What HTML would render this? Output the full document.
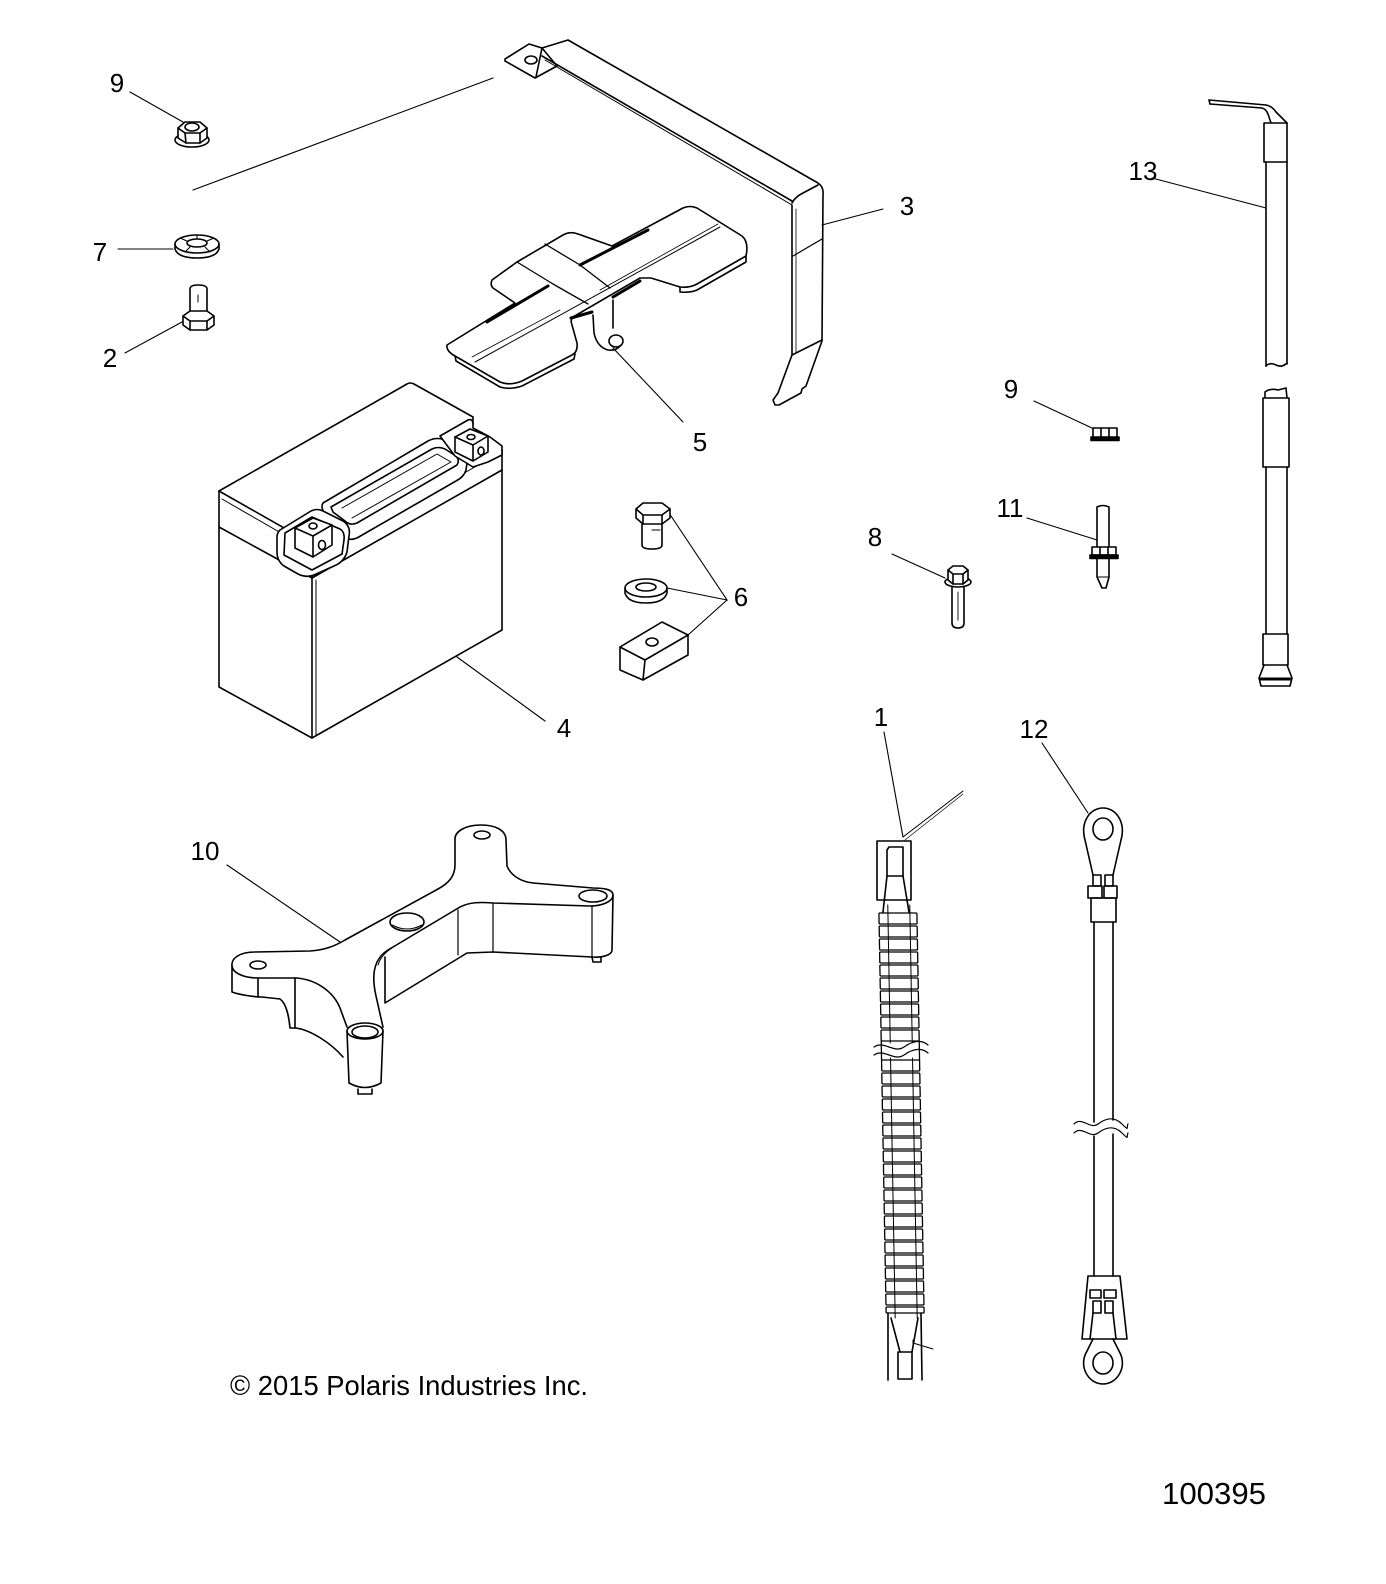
<!DOCTYPE html>
<html><head><meta charset="utf-8"><style>
html,body{margin:0;padding:0;background:#fff;}
svg{display:block;}
text{font-family:"Liberation Sans",Arial,sans-serif;fill:#000;}
</style></head><body>
<svg width="1386" height="1584" viewBox="0 0 1386 1584" xmlns="http://www.w3.org/2000/svg">
<rect width="1386" height="1584" fill="#fff"/>

<!-- LEADER LINES -->
<g fill="none" stroke="#000" stroke-width="1.1" stroke-linecap="round">
  <line x1="130" y1="92" x2="183" y2="122"/>
  <line x1="193" y1="190" x2="493" y2="78"/>
  <line x1="118" y1="249" x2="173" y2="249"/>
  <line x1="125" y1="353" x2="182" y2="322"/>
  <line x1="822" y1="225" x2="883" y2="209"/>
  <line x1="613" y1="348" x2="683" y2="422"/>
  <line x1="457" y1="657" x2="545" y2="721"/>
  <polyline points="669,513 727,600 667,588"/>
  <line x1="727" y1="600" x2="688" y2="635"/>
  <line x1="227" y1="865" x2="340" y2="942"/>
  <line x1="1152" y1="178" x2="1266" y2="208"/>
  <line x1="1034" y1="401" x2="1092" y2="428"/>
  <line x1="1027" y1="518" x2="1097" y2="540"/>
  <line x1="892" y1="554" x2="945" y2="578"/>
  <line x1="884" y1="732" x2="903" y2="837"/>
  <line x1="1042" y1="743" x2="1088" y2="813"/>
</g>

<g fill="none" stroke="#000" stroke-width="1.6" stroke-linejoin="round" stroke-linecap="round">

<!-- PART 9 nut (top left) -->
<ellipse cx="192" cy="140" rx="17" ry="7" fill="#fff"/>
<path d="M178,128 L178,138 L186,143 L200,143 L207,138 L207,128" fill="#fff"/>
<path d="M178,128 L185,122 L200,122 L207,128 L200,133 L185,133 Z" fill="#fff"/>
<path d="M185,133 L186,143 M200,133 L200,143"/>
<ellipse cx="192" cy="127" rx="7" ry="4"/>

<!-- PART 7 washer -->
<path d="M175,244 L175,249 Q178,258 197,258 Q216,258 219,249 L219,244"/>
<ellipse cx="197" cy="244" rx="22" ry="9" fill="#fff"/>
<ellipse cx="197" cy="243" rx="10" ry="4"/>
<path d="M187,241 L180,238 M207,241 L214,238 M190,247 L185,252 M205,247 L210,252 M197,239 L197,235" stroke-width="1"/>

<!-- PART 2 bolt -->
<path d="M190,312 L190,289 Q190,285 198,285 Q207,285 207,289 L207,312" fill="#fff"/>
<path d="M198,295 L198,302" stroke-width="1"/>
<path d="M183,316 L183,325 L190,330 L207,330 L214,325 L214,316" fill="#fff"/>
<path d="M183,316 L190,311 L207,311 L214,316 L207,321 L190,321 Z" fill="#fff"/>
<path d="M190,321 L190,330 M207,321 L207,330"/>

<!-- PART 3 bracket -->
<path d="M505,59 L529,44 L542,48 L557,66 L535,78 L505,61 Z" fill="#fff"/>
<path d="M542,48 L536,77"/>
<ellipse cx="531" cy="60" rx="6" ry="4"/>
<path d="M542,48 L568,40 L818,183 Q824,187 823,195 L822,340"/>
<path d="M542,56 L792,201"/>
<path d="M545,60 L792,205" stroke-width="1"/>
<path d="M792,203 Q795,197 803,193 L818,185"/>
<path d="M792,205 L792,355"/>
<path d="M796,209 L796,352" stroke-width="0.8"/>
<path d="M793,256 L822,239" stroke-width="1.2"/>
<path d="M792,355 L822,340"/>
<path d="M792,355 L778,393 L773,400 L775,405 L779,405 L801,393 L802,389 L806,386 L822,341"/>

<!-- PART 5 hold-down -->
<path d="M447,345 L515,303 L493,288 Q490,285 492,280 L517,262 L563,235 Q570,231 578,234 L612,246 L683,208 Q690,205 697,208 L742,236 Q749,242 746,256 L697,284 Q690,288 680,287 L651,278 L640,278 L573,317 Q570,320 572,325 L577,343 Q578,352 572,355 L522,381 Q510,386 500,382 L455,356 Q446,351 447,345 Z" fill="#fff"/>
<path d="M455,356 L456,361 L500,387 Q510,390 522,386 L574,359 L575,354"/>
<path d="M746,256 L746,262 L697,290 Q690,293 680,292 L680,287"/>
<path d="M475,362 L720,227" stroke-width="1"/>
<path d="M472,357 L560,310 M600,290 L718,224" stroke-width="0.8"/>
<path d="M487,322 L548,286" stroke-width="3"/>
<path d="M580,265 L648,230" stroke-width="3"/>
<path d="M517,262 L553,284 M545,244 L580,265 L610,288 M553,284 L588,304" stroke-width="1.3"/>
<path d="M571,318 L592,312" stroke-width="3"/>
<path d="M613,297 L640,281" stroke-width="3"/>
<path d="M593,315 L594,333 Q597,347 608,350 Q616,351 620,346"/>
<path d="M613,300 L613,328"/>
<ellipse cx="616" cy="341" rx="7" ry="6" fill="#fff"/>

<!-- PART 4 battery -->
<path d="M219,491 L219,687 L312,738 L502,630 L502,450"/>
<path d="M219,527 L312,578 L502,470"/>
<path d="M312,560 L312,738"/>
<path d="M316,580 L316,736" stroke-width="1"/>
<path d="M219,491 L407,384 Q410,382 414,384 L473,417 L473,425"/>
<path d="M219,491 L300,537 Q312,544 312,560"/>
<path d="M222,499 L300,544" stroke-width="1"/>
<path d="M316,549 L497,446 Q502,444 502,452" />
<path d="M318,556 L496,455" stroke-width="1"/>
<!-- handle -->
<path d="M323,503 L428,441 Q437,436 447,441 L463,450 Q470,455 467,463 L466,470 Q464,477 456,481 L357,538 Q350,541 343,537 L326,515 Q320,508 323,503 Z" fill="#fff"/>
<path d="M331,507 L432,449 Q438,446 445,449 L456,456 Q460,460 457,465 L357,523 Q350,526 345,521 L333,512 Z"/>
<path d="M342,508 L437,454 L451,462 L352,518" stroke-width="1"/>
<!-- front terminal recess -->
<path d="M280,530 L311,511 Q317,508 323,511 L343,521 Q351,526 349,536 L347,552 Q344,562 334,566 L314,575 Q306,578 298,574 L284,566 Q277,561 277,552 L277,537 Q277,533 280,530 Z" fill="#fff"/>
<path d="M285,533 L312,517 L340,529 Q345,532 344,540 L342,554 L312,570 L284,555 Z"/>
<!-- front terminal cube -->
<path d="M295,528 L313,518 L332,525 L332,545 L313,557 L295,548 Z" fill="#fff"/>
<path d="M295,528 L313,536 L332,525 M313,536 L313,557"/>
<ellipse cx="313" cy="526" rx="4" ry="3"/>
<ellipse cx="322" cy="545" rx="3.5" ry="4.5"/>
<!-- back terminal -->
<path d="M440,436 L468,420 Q473,418 473,425 L473,428 L490,437 L502,446 L502,455 L488,462 L473,467 L455,456 Z" fill="#fff"/>
<path d="M455,437 L470,429 L488,436 L488,452 L473,461 L455,452 Z" fill="#fff"/>
<path d="M455,437 L473,445 L488,436 M473,445 L473,461"/>
<ellipse cx="471" cy="437" rx="4" ry="2.5"/>
<ellipse cx="481" cy="451" rx="3" ry="4"/>

<!-- PART 6 -->
<path d="M642,524 L642,545 Q642,549 652,549 Q662,549 662,545 L662,524" fill="#fff"/>
<path d="M652,530 L660,530" stroke-width="1"/>
<path d="M636,509 L636,518 L643,524 L662,524 L670,518 L670,509" fill="#fff"/>
<path d="M636,509 L643,503 L662,503 L670,509 L662,515 L643,515 Z" fill="#fff"/>
<path d="M643,515 L643,524 M662,515 L662,524"/>
<path d="M625,588 L625,593 Q628,603 646,603 Q664,603 667,593 L667,588"/>
<ellipse cx="646" cy="588" rx="21" ry="9" fill="#fff"/>
<ellipse cx="646" cy="587" rx="10" ry="4"/>
<path d="M620,647 L662,622 L688,635 L645,660 Z" fill="#fff"/>
<path d="M620,647 L620,670 L643,680 L645,660 M643,680 L688,655 L688,635"/>
<ellipse cx="652" cy="642" rx="6" ry="4"/>

<!-- PART 10 -->
<path d="M232,966 L232,992 C240,995 255,997 262,997 L280,999 C287,1004 289,1018 290,1028 L296,1028 C310,1030 330,1042 343,1057" fill="#fff"/>
<path d="M258,978 L258,997 M295,978 L295,1028"/>
<path d="M255,952 C240,952 231,958 232,966 C233,974 246,978 258,978 L297,978 C318,980 334,993 340,1008 L347,1027 M383,1027 L376,996 C372,978 372,960 388,950 L460,907 C470,902 480,902 493,903 L590,906 C603,906 613,901 613,895 C613,889 603,888 593,888 L533,883 C522,882 511,876 507,866 L506,840 C506,830 495,825 481,825 C466,825 455,831 455,839 L455,865 C455,876 449,883 438,889 L345,940 C335,946 325,950 310,951 L255,952"/>
<path d="M385,957 L385,1003 L467,953 L493,952 L592,957 C602,958 612,955 612,950 L613,895"/>
<path d="M458,910 L458,955 M493,903 L493,952 M592,906 L592,957" stroke-width="1.2"/>
<path d="M592,957 L593,962 L601,962 L601,957"/>
<path d="M378,965 Q381,955 392,948" stroke-width="1"/>
<path d="M347,1031 L349,1083 Q365,1092 381,1083 L383,1031" fill="#fff"/>
<ellipse cx="365" cy="1031" rx="18" ry="8" fill="#fff"/>
<ellipse cx="365" cy="1032" rx="13" ry="6"/>
<path d="M358,1089 L358,1094 L372,1094 L372,1089"/>
<ellipse cx="407" cy="922" rx="17" ry="9"/>
<path d="M392,925 Q407,933 422,925" stroke-width="1"/>
<ellipse cx="593" cy="896" rx="14" ry="6"/>
<ellipse cx="258" cy="965" rx="8" ry="4"/>
<ellipse cx="482" cy="835" rx="8" ry="4"/>

<!-- PART 8 bolt -->
<path d="M952,586 L952,623 Q952,628 958,628 Q964,628 964,623 L964,586" fill="#fff"/>
<path d="M958,592 L958,620" stroke-width="0.9"/>
<ellipse cx="958" cy="582" rx="13" ry="5" fill="#fff"/>
<path d="M948,570 L948,580 L953,584 L963,584 L968,580 L968,570" fill="#fff"/>
<path d="M948,570 L953,566 L963,566 L968,570 L963,574 L953,574 Z" fill="#fff"/>
<path d="M953,574 L953,584 M963,574 L963,584"/>

<!-- PART 9 nut (right) -->
<rect x="1093" y="428" width="24" height="10" fill="#fff"/>
<path d="M1101,428 L1101,438 M1109,428 L1109,438"/>
<rect x="1091" y="437" width="28" height="3.5" fill="#000"/>

<!-- PART 11 -->
<path d="M1097,547 L1097,507 Q1103,504 1109,507 L1109,547" fill="#fff"/>
<rect x="1092" y="547" width="24" height="8" fill="#fff"/>
<path d="M1100,547 L1100,555 M1108,547 L1108,555"/>
<rect x="1090" y="555" width="28" height="3.5" fill="#000"/>
<path d="M1097,559 L1097,577 L1102,588 L1106,588 L1109,577 L1109,559"/>
<path d="M1097,577 L1109,577" stroke-width="1"/>

<!-- PART 13 -->
<path d="M1209,100 L1266,105 Q1272,106 1276,112 L1287,123"/>
<path d="M1210,104 L1262,108 Q1266,109 1268,114 L1271,123"/>
<path d="M1209,100 L1210,104"/>
<rect x="1264" y="123" width="23" height="39" fill="#fff"/>
<path d="M1266,162 L1266,366 M1287,162 L1287,364"/>
<path d="M1266,366 Q1270,362 1276,365 Q1282,368 1287,363"/>
<path d="M1265,398 L1265,392 Q1270,388 1278,390 L1286,388 L1287,398"/>
<rect x="1263" y="398" width="26" height="69" fill="#fff"/>
<path d="M1266,467 L1266,634 M1287,467 L1287,634"/>
<rect x="1263" y="634" width="25" height="31" fill="#fff"/>
<path d="M1264,665 L1259,678 L1261,686 L1290,686 L1292,678 L1287,665"/>
<path d="M1261,679 L1290,679" stroke-width="3"/>

<!-- PART 1 harness -->
<path d="M903,837 L963,791" stroke-width="1"/>
<path d="M905,840 L963,794" stroke-width="0.7"/>
<rect x="877" y="841" width="34" height="59"/>
<path d="M887,850 L889,847 L903,847 L903,876 L887,876 Z"/>
<path d="M887,876 L883,912 M903,876 L909,912"/>
<g transform="translate(-16.5,0) skewX(1.03)" stroke-width="1.3">
  <rect x="879" y="913" width="38" height="11" rx="1"/>
  <rect x="879" y="926" width="38" height="11" rx="1"/>
  <rect x="879" y="939" width="38" height="11" rx="1"/>
  <rect x="879" y="952" width="38" height="11" rx="1"/>
  <rect x="879" y="965" width="38" height="11" rx="1"/>
  <rect x="879" y="978" width="38" height="11" rx="1"/>
  <rect x="879" y="991" width="38" height="11" rx="1"/>
  <rect x="879" y="1004" width="38" height="11" rx="1"/>
  <rect x="879" y="1017" width="38" height="11" rx="1"/>
  <rect x="879" y="1030" width="38" height="11" rx="1"/>
  <rect x="879" y="1060" width="38" height="11" rx="1"/>
  <rect x="879" y="1073" width="38" height="11" rx="1"/>
  <rect x="879" y="1086" width="38" height="11" rx="1"/>
  <rect x="879" y="1099" width="38" height="11" rx="1"/>
  <rect x="879" y="1112" width="38" height="11" rx="1"/>
  <rect x="879" y="1125" width="38" height="11" rx="1"/>
  <rect x="879" y="1138" width="38" height="11" rx="1"/>
  <rect x="879" y="1151" width="38" height="11" rx="1"/>
  <rect x="879" y="1164" width="38" height="11" rx="1"/>
  <rect x="879" y="1177" width="38" height="11" rx="1"/>
  <rect x="879" y="1190" width="38" height="11" rx="1"/>
  <rect x="879" y="1203" width="38" height="11" rx="1"/>
  <rect x="879" y="1216" width="38" height="11" rx="1"/>
  <rect x="879" y="1229" width="38" height="11" rx="1"/>
  <rect x="879" y="1242" width="38" height="11" rx="1"/>
  <rect x="879" y="1255" width="38" height="11" rx="1"/>
  <rect x="879" y="1268" width="38" height="11" rx="1"/>
  <rect x="879" y="1281" width="38" height="11" rx="1"/>
  <rect x="879" y="1294" width="38" height="11" rx="1"/>
  <rect x="879" y="1307" width="38" height="6" rx="1"/>
  <path d="M888,905 L888,1043 M888,1058 L888,1318 M910,905 L910,1043 M910,1058 L910,1318" stroke-width="1"/>
  <path d="M879,1041 L879,1060 M917,1041 L917,1060" stroke-width="1.3"/>
</g>
<path d="M874,1047 C884,1040 894,1054 904,1047 S922,1040 928,1045" stroke-width="1.2"/>
<path d="M874,1055 C884,1048 894,1062 904,1055 S922,1048 928,1053" stroke-width="1.2"/>
<path d="M888,1313 L888,1380 M921,1313 L922,1380"/>
<path d="M891,1318 L900,1352 M918,1318 L912,1352"/>
<rect x="898" y="1352" width="14" height="27"/>
<path d="M913,1343 L933,1349" stroke-width="1"/>
<path d="M913,1340 L913,1347" stroke-width="1"/>

<!-- PART 12 ground cable -->
<path d="M1093,875 L1085,840 C1080,822 1090,808 1103,808 C1116,808 1126,822 1121,840 L1113,875"/>
<ellipse cx="1103" cy="829" rx="10" ry="11"/>
<rect x="1093" y="875" width="8" height="11"/>
<rect x="1105" y="875" width="8" height="11"/>
<rect x="1088" y="886" width="14" height="12"/>
<rect x="1104" y="886" width="13" height="12"/>
<rect x="1091" y="898" width="25" height="24"/>
<path d="M1094,922 L1094,1122 M1094,1136 L1094,1276 M1113,922 L1113,1120 M1113,1134 L1113,1276"/>
<path d="M1074,1124 C1082,1116 1090,1130 1098,1124 S1114,1116 1122,1124 S1126,1127 1128,1124" stroke-width="1.2"/>
<path d="M1074,1133 C1082,1125 1090,1139 1098,1133 S1114,1125 1122,1133 S1126,1136 1128,1133" stroke-width="1.2"/>
<path d="M1088,1276 L1120,1276 L1127,1339 L1082,1339 Z"/>
<rect x="1090" y="1290" width="11" height="8"/>
<rect x="1104" y="1290" width="12" height="8"/>
<rect x="1093" y="1301" width="8" height="12"/>
<rect x="1105" y="1301" width="8" height="12"/>
<path d="M1093,1313 L1090,1339 M1113,1313 L1116,1339"/>
<path d="M1093,1339 L1085,1355 C1080,1370 1090,1384 1103,1384 C1116,1384 1126,1370 1121,1355 L1113,1339"/>
<ellipse cx="1103" cy="1363" rx="10" ry="11"/>
</g>

<!-- LABELS -->
<g font-size="26" text-anchor="middle">
  <text x="117" y="92">9</text>
  <text x="100" y="261">7</text>
  <text x="110" y="367">2</text>
  <text x="907" y="215">3</text>
  <text x="700" y="451">5</text>
  <text x="564" y="737">4</text>
  <text x="741" y="606">6</text>
  <text x="205" y="860">10</text>
  <text x="1143" y="180">13</text>
  <text x="1011" y="398">9</text>
  <text x="1010" y="517">11</text>
  <text x="875" y="546">8</text>
  <text x="881" y="726">1</text>
  <text x="1034" y="738">12</text>
</g>
<text x="230" y="1395" font-size="28" textLength="358" lengthAdjust="spacingAndGlyphs">© 2015 Polaris Industries Inc.</text>
<text x="1162" y="1504" font-size="31" textLength="104" lengthAdjust="spacingAndGlyphs">100395</text>
</svg>
</body></html>
